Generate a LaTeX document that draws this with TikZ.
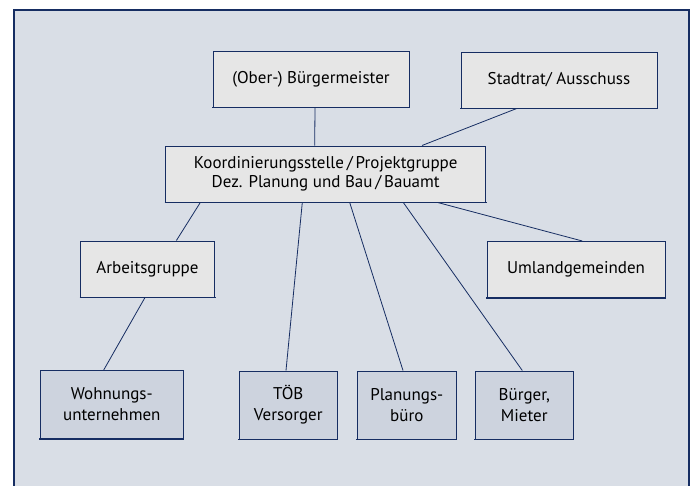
\documentclass[tikz,border=0pt]{standalone}
\usepackage{fontspec}
\setmainfont{PT Sans}
\definecolor{navy}{RGB}{22,45,98}
\definecolor{bgblue}{RGB}{217,222,230}
\definecolor{boxgray}{RGB}{230,230,230}
\definecolor{boxblue}{RGB}{205,211,222}
\tikzset{
  orgbox/.style={draw=navy, line width=1pt, fill=boxgray, align=center,
    inner sep=0pt, font=\fontsize{17}{19}\selectfont,
    append after command={(\tikzlastnode.south west) edge[draw=navy, line width=1.9pt, shorten <=-0.5pt, shorten >=-0.5pt] (\tikzlastnode.south east)}},
  lowbox/.style={orgbox, fill=boxblue, font=\fontsize{17}{21}\selectfont},
  link/.style={draw=navy, line width=0.8pt}
}
\begin{document}
\begin{tikzpicture}[x=1pt, y=-1pt]
\useasboundingbox (0,0) rectangle (694,485);
\fill[white] (0,0) rectangle (694,485);
\fill[bgblue] (14,10) rectangle (689,486);
\draw[navy, line width=2.6pt] (14,486) -- (14,10) -- (689,10) -- (689,486);

\node[orgbox, minimum width=196pt, minimum height=56pt] (bm) at (311,79) {(Ober-) Bürgermeister};
\node[orgbox, minimum width=196pt, minimum height=56pt] (sr) at (559,80) {Stadtrat/ Ausschuss};
\node[orgbox, minimum width=320pt, minimum height=56pt] (ko) at (325.7,174) {Koordinierungsstelle\,/\,Projektgruppe\\Dez. Planung und Bau\,/\,Bauamt};
\node[orgbox, minimum width=134pt, minimum height=56pt] (ag) at (147.5,269) {Arbeitsgruppe};
\node[orgbox, minimum width=178pt, minimum height=56pt] (ul) at (576,269.5) {Umlandgemeinden};
\node[lowbox, minimum width=143pt, minimum height=68pt] (wu) at (111.8,404.5) {Wohnungs-\\unternehmen};
\node[lowbox, minimum width=98pt, minimum height=68pt] (tb) at (288.3,405) {TÖB\\Versorger};
\node[lowbox, minimum width=99pt, minimum height=68pt] (pb) at (406.8,405) {Planungs-\\büro};
\node[lowbox, minimum width=98pt, minimum height=68pt] (bu) at (524.3,405) {Bürger,\\Mieter};

\draw[link] ([xshift=4pt]bm.south) -- ([xshift=-11pt]ko.north);
\draw[link] ([xshift=-42.3pt]sr.south) -- ([xshift=96.3pt]ko.north);
\draw[link] ([xshift=-125.4pt]ko.south) -- ([xshift=28.9pt]ag.north);
\draw[link] ([xshift=-23.4pt]ko.south) -- ([xshift=-2.3pt]tb.north);
\draw[link] ([xshift=24pt]ko.south) -- ([xshift=-3.8pt]pb.north);
\draw[link] ([xshift=77.6pt]ko.south) -- ([xshift=-2pt]bu.north);
\draw[link] ([xshift=112pt]ko.south) -- ([xshift=6.3pt]ul.north);
\draw[link] ([xshift=-2.5pt]ag.south) -- ([xshift=-8.1pt]wu.north);
\end{tikzpicture}
\end{document}
